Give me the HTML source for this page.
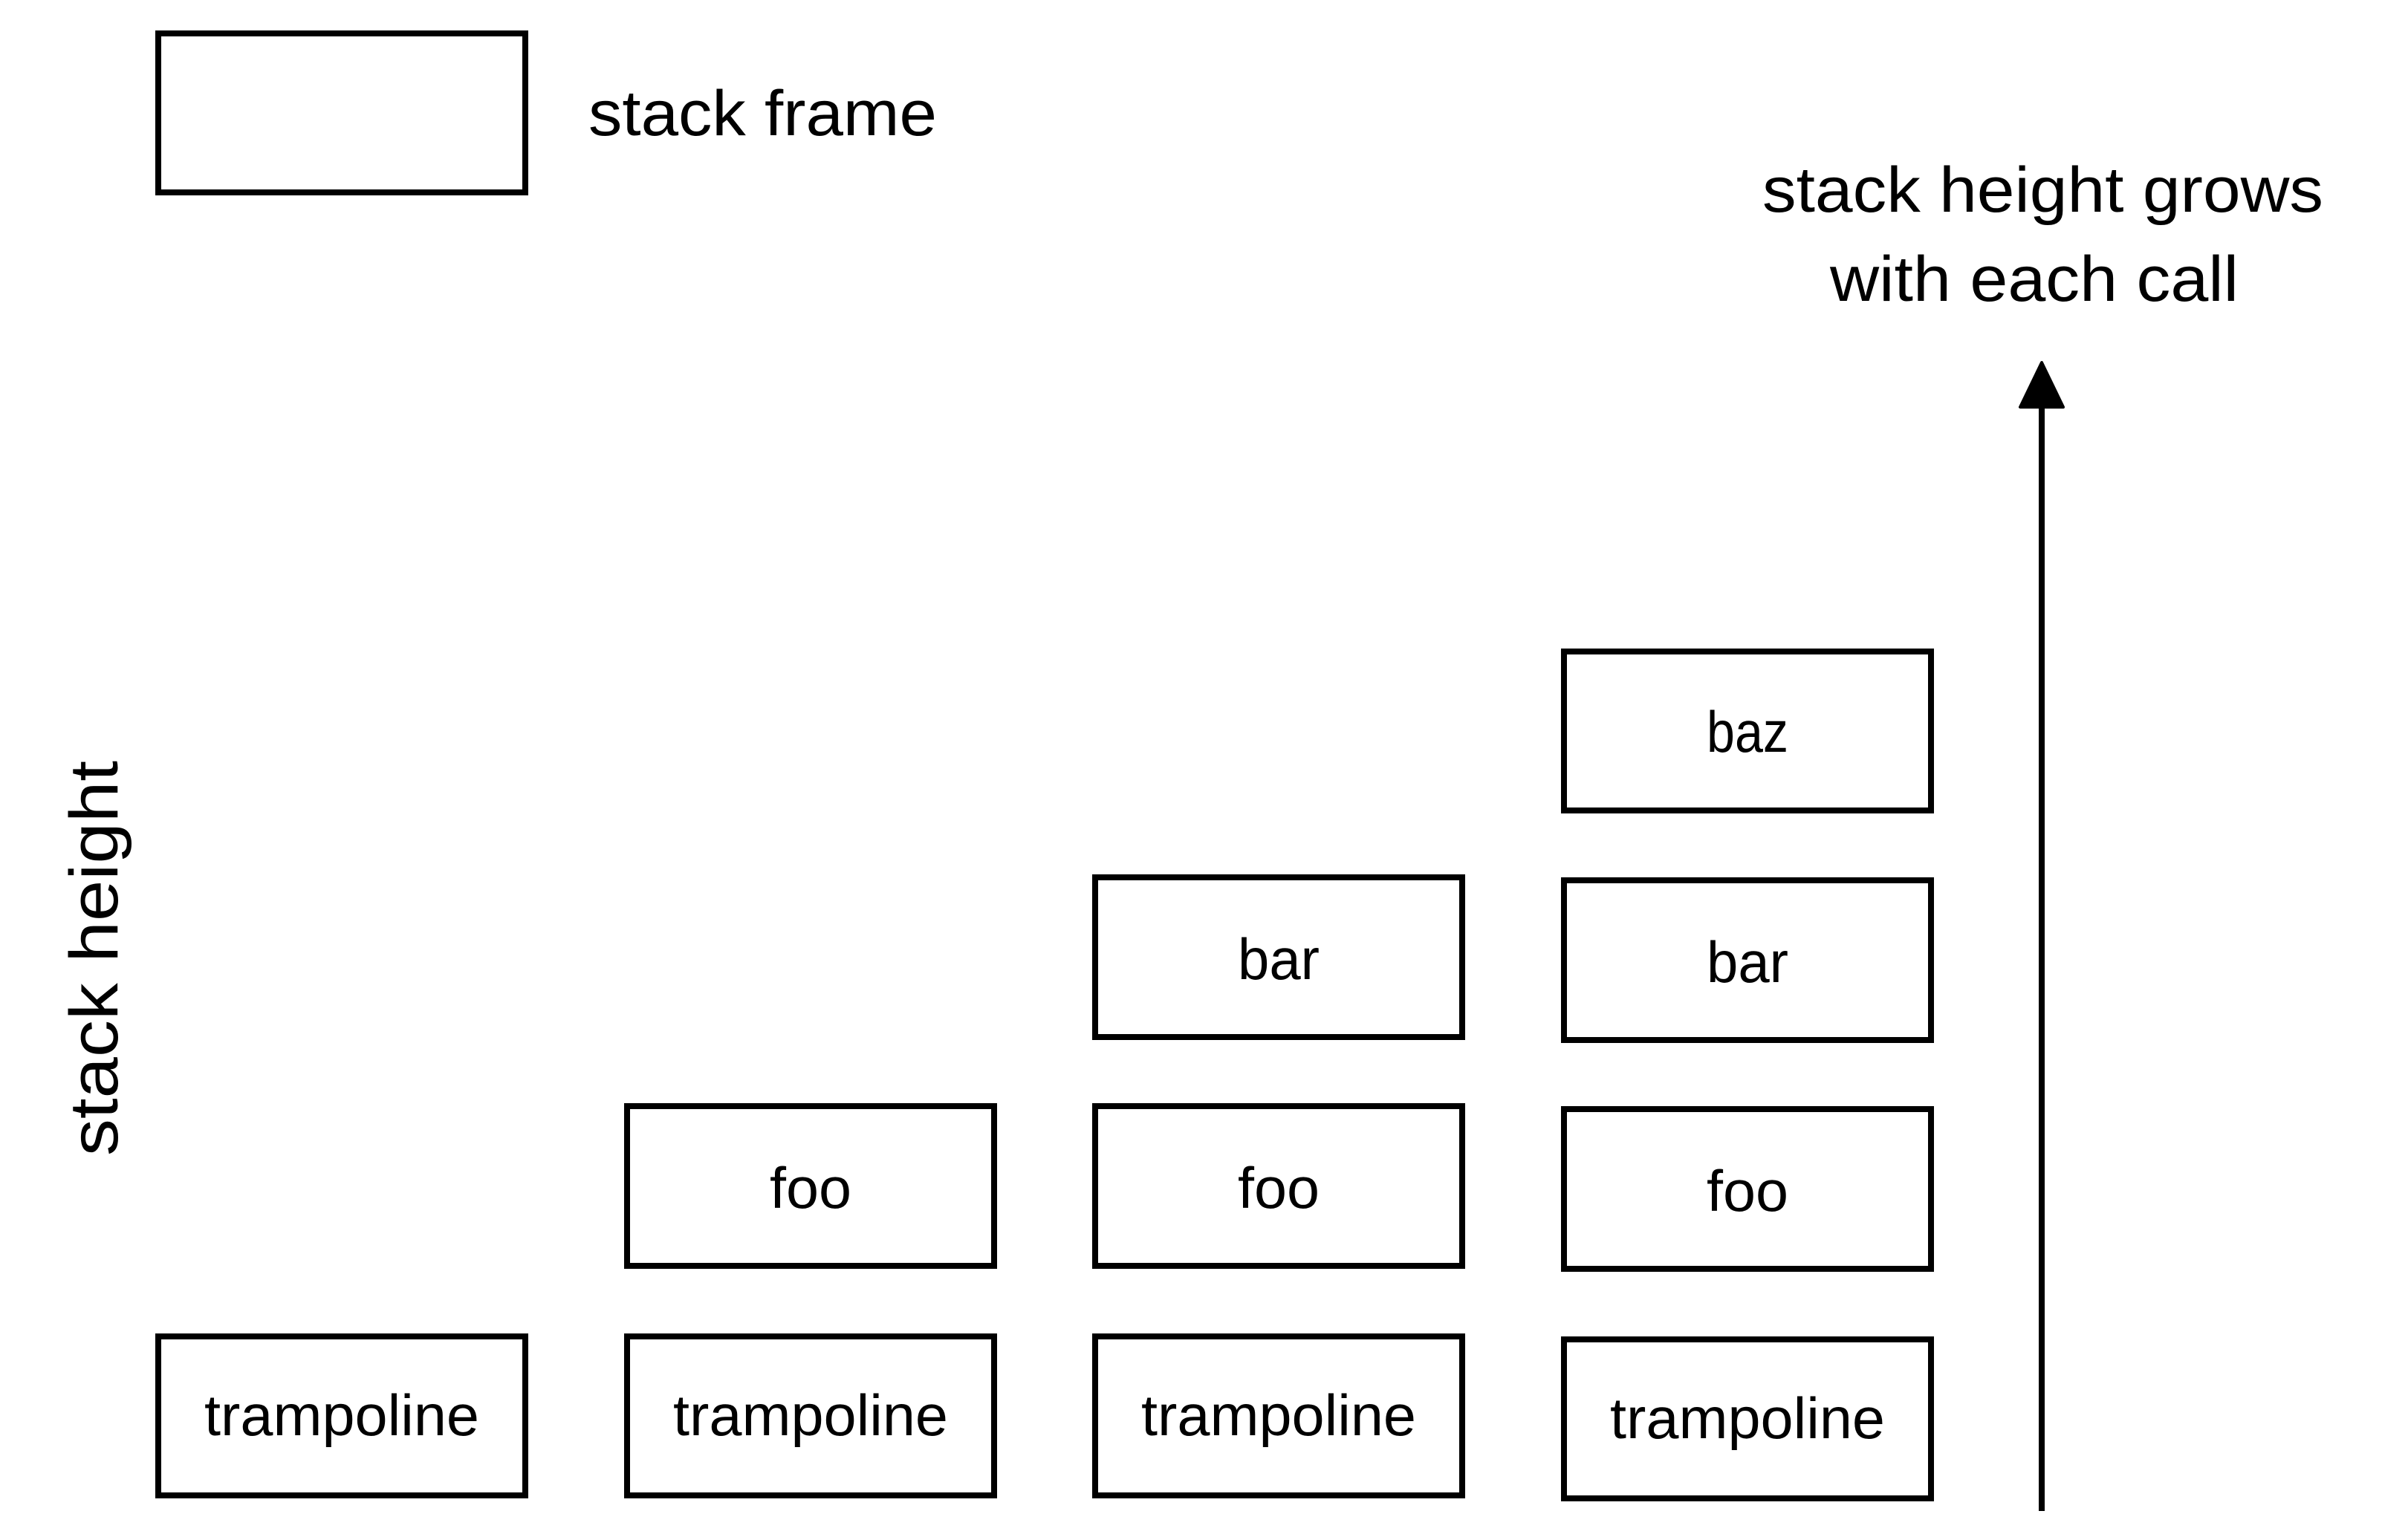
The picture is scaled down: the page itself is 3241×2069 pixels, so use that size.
<!DOCTYPE html>
<html><head><meta charset="utf-8"><style>
html,body{margin:0;padding:0;background:#fff;}
svg{display:block;}
text{font-family:"Liberation Sans",sans-serif;fill:#000;}
</style></head><body>
<svg width="3241" height="2069" viewBox="0 0 3241 2069" xmlns="http://www.w3.org/2000/svg">
<g fill="none" stroke="#000" stroke-width="8">
<rect x="213" y="45" width="494" height="214"/>
<rect x="213" y="1799" width="494" height="214"/>
<rect x="844" y="1489" width="494" height="215"/>
<rect x="844" y="1799" width="494" height="214"/>
<rect x="1474" y="1799" width="494" height="214"/>
<rect x="1474" y="1489" width="494" height="215"/>
<rect x="1474" y="1181" width="494" height="215"/>
<rect x="2105" y="1803" width="494" height="214"/>
<rect x="2105" y="1493" width="494" height="215"/>
<rect x="2105" y="1185" width="494" height="215"/>
<rect x="2105" y="877" width="494" height="214"/>
<line x1="2748" y1="2034" x2="2748" y2="540"/>
</g>
<polygon points="2748,488 2719,548 2777,548" fill="#000" stroke="#000" stroke-width="4" stroke-linejoin="round"/>
<g font-size="86">
<text x="792" y="182" textLength="469" lengthAdjust="spacingAndGlyphs">stack frame</text>
<text x="2372" y="285" textLength="755" lengthAdjust="spacingAndGlyphs">stack height grows</text>
<text x="2463" y="405" textLength="550" lengthAdjust="spacingAndGlyphs">with each call</text>
</g>
<g font-size="78" text-anchor="middle">
<text x="460" y="1932" textLength="370" lengthAdjust="spacingAndGlyphs">trampoline</text>
<text x="1091" y="1932" textLength="370" lengthAdjust="spacingAndGlyphs">trampoline</text>
<text x="1721" y="1932" textLength="370" lengthAdjust="spacingAndGlyphs">trampoline</text>
<text x="2352" y="1936" textLength="370" lengthAdjust="spacingAndGlyphs">trampoline</text>
<text x="1091" y="1626" textLength="110" lengthAdjust="spacingAndGlyphs">foo</text>
<text x="1721" y="1626" textLength="110" lengthAdjust="spacingAndGlyphs">foo</text>
<text x="2352" y="1630" textLength="110" lengthAdjust="spacingAndGlyphs">foo</text>
<text x="1721" y="1318" textLength="110" lengthAdjust="spacingAndGlyphs">bar</text>
<text x="2352" y="1322" textLength="110" lengthAdjust="spacingAndGlyphs">bar</text>
<text x="2352" y="1012" textLength="110" lengthAdjust="spacingAndGlyphs">baz</text>
</g>
<text x="0" y="0" font-size="92" text-anchor="middle" transform="translate(158,1290) rotate(-90)" textLength="532" lengthAdjust="spacingAndGlyphs">stack height</text>
</svg>
</body></html>
